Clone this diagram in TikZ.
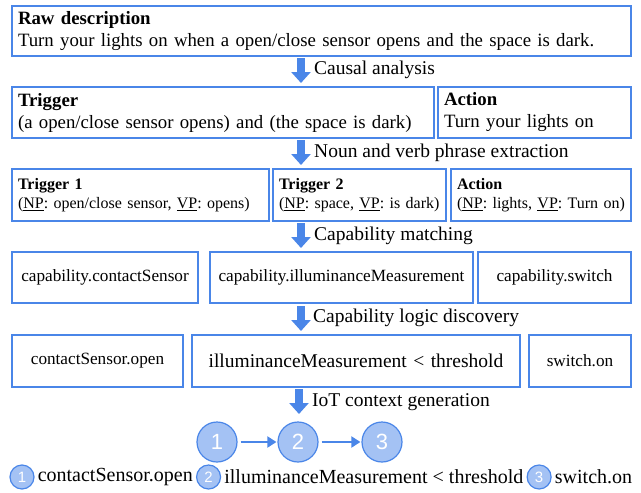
\documentclass[tikz,border=0pt]{standalone}
\usepackage{fontspec}
\setmainfont{Liberation Serif}
\setsansfont{Liberation Sans}
\usetikzlibrary{positioning,arrows.meta}
\definecolor{gblue}{HTML}{4A86E8}
\definecolor{lblue}{HTML}{A4C2F4}
\newcommand{\bigtxt}{\fontsize{18.8}{22}\selectfont}
\newcommand{\steptxt}{\fontsize{19.5}{22}\selectfont}
\newcommand{\midtxt}{\fontsize{17.2}{21}\selectfont}
\newcommand{\smalltxt}{\fontsize{16}{19}\selectfont}
\frenchspacing

\begin{document}
\begin{tikzpicture}[x=1pt,y=-1pt,
            box/.style={draw=gblue,line width=2pt,anchor=north west,inner xsep=6pt,inner ysep=0pt,align=left},
            cbox/.style={box,align=center},
            flow/.style={draw=gblue,line width=8pt,-{Triangle[length=11pt,width=19pt]}},
            steplabel/.style={anchor=west,inner sep=0pt,font=\steptxt},
            num/.style={circle,draw=gblue,line width=1.2pt,fill=lblue,text=white,inner sep=0pt,minimum size=40pt,font=\sffamily\fontsize{22}{22}\selectfont},
            smallnum/.style={num,minimum size=24pt,font=\sffamily\fontsize{15}{15}\selectfont},
            link/.style={draw=gblue,line width=2pt,-{Triangle[length=9pt,width=11pt]},shorten <=3pt,shorten >=1pt},
            legend/.style={inner sep=0pt,font=\fontsize{20}{22}\selectfont},
        ]
            \useasboundingbox (0,0) rectangle (641,493);

            % raw description
            \node[box,text width=607pt,minimum height=50pt,font=\bigtxt] (raw) at (11,5)
                {\textbf{Raw description}\\Turn your lights on when a open/close sensor opens and the space is dark.};

            \coordinate (a1s) at (301,58);
            \coordinate (a1e) at (301,83);
            \draw[flow] (a1s) -- (a1e);
            \node[steplabel] (l1) at (314,70) {Causal analysis};

            % trigger / action
            \node[box,text width=410pt,minimum height=51pt,font=\bigtxt] (trig) at (11,86)
                {\textbf{Trigger}\\(a open/close sensor opens) and (the space is dark)};
            \node[box,text width=181pt,minimum height=51pt,font=\bigtxt] (act) at (437,86)
                {\textbf{Action}\\Turn your lights on};

            \coordinate (a2s) at (301,140);
            \coordinate (a2e) at (301,165);
            \draw[flow] (a2s) -- (a2e);
            \node[steplabel] (l2) at (314,153) {Noun and verb phrase extraction};

            % phrases
            \node[box,text width=245pt,minimum height=52pt,font=\smalltxt] (trig1) at (11,168)
                {\textbf{Trigger 1}\\(\underline{NP}: open/close sensor, \underline{VP}: opens)};
            \node[box,text width=161pt,minimum height=52pt,font=\smalltxt] (trig2) at (272,168)
                {\textbf{Trigger 2}\\(\underline{NP}: space, \underline{VP}: is dark)};
            \node[box,text width=168pt,minimum height=52pt,font=\smalltxt] (act2) at (450,168)
                {\textbf{Action}\\(\underline{NP}: lights, \underline{VP}: Turn on)};

            \coordinate (a3s) at (301,223);
            \coordinate (a3e) at (301,248);
            \draw[flow] (a3s) -- (a3e);
            \node[steplabel] (l3) at (314,236) {Capability matching};

            % capabilities
            \node[cbox,text width=174pt,minimum height=51pt,font=\midtxt] (cap1) at (11,251) {capability.contactSensor};
            \node[cbox,text width=251pt,minimum height=51pt,font=\midtxt] (cap2) at (209,251) {capability.illuminanceMeasurement};
            \node[cbox,text width=141pt,minimum height=51pt,font=\midtxt] (cap3) at (477,251) {capability.switch};

            \coordinate (a4s) at (301,306);
            \coordinate (a4e) at (301,331);
            \draw[flow] (a4s) -- (a4e);
            \node[steplabel] (l4) at (313,318) {Capability logic discovery};

            % capability logic
            \node[cbox,text width=159pt,minimum height=52pt,font=\midtxt] (log1) at (11,334) {contactSensor.open};
            \node[cbox,text width=316pt,minimum height=52pt,font=\steptxt] (log2) at (191,334) {illuminanceMeasurement < threshold};
            \node[cbox,text width=90pt,minimum height=52pt,font=\midtxt] (log3) at (528,334) {switch.on};

            \coordinate (a5s) at (299,389);
            \coordinate (a5e) at (299,414);
            \draw[flow] (a5s) -- (a5e);
            \node[steplabel] (l5) at (312,402) {IoT context generation};

            % context
            \node[num] (n1) at (217,442) {1};
            \node[num] (n2) at (298,442) {2};
            \node[num] (n3) at (382,442) {3};
            \draw[link] (n1) -- (n2);
            \draw[link] (n2) -- (n3);

            \node[smallnum] (s1) at (22,477) {1};
            \node[legend,right=3pt of s1] (t1) {contactSensor.open};
            \node[smallnum,right=3pt of t1] (s2) {2};
            \node[legend,right=3pt of s2] (t2) {illuminanceMeasurement < threshold};
            \node[smallnum,right=3pt of t2] (s3) {3};
            \node[legend,right=3pt of s3] (t3) {switch.on};
        \end{tikzpicture}
\end{document}
